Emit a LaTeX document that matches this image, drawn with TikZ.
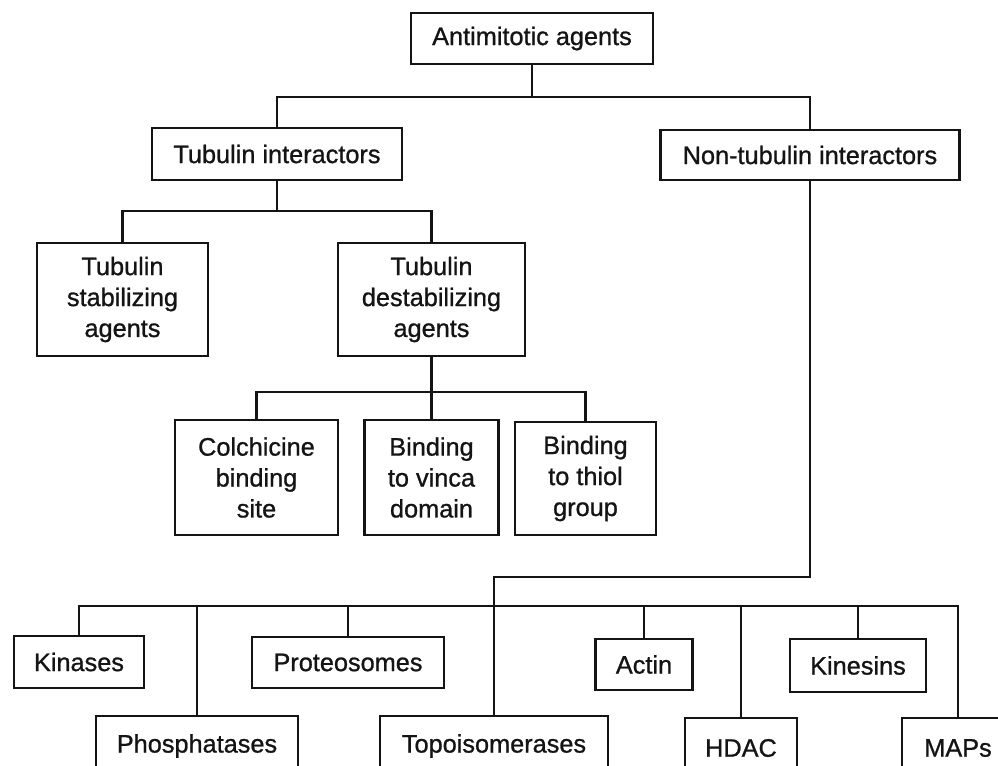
\documentclass[tikz,border=0pt]{standalone}
\usepackage{fontspec}
\setmainfont{Liberation Sans}[FakeBold=0.9]
\usepackage{xcolor}
\usepackage{tikz}
\usetikzlibrary{positioning, calc}
\definecolor{inkblack}{RGB}{20, 20, 20}
\tikzset{
    agentbox/.style={
        draw=inkblack, line width=1.5pt, fill=white, anchor=center,
        align=center, inner sep=2pt,
        font=\fontsize{14.4}{17.6}\selectfont, text=inkblack
    },
    linkline/.style={
        draw=inkblack, line width=1.2pt
    }
}

\begin{document}
\begin{tikzpicture}[x=0.02cm, y=-0.02cm]
    \useasboundingbox (0,0) rectangle (998,765);

    % Cấp 1 và 2
    \node[agentbox, minimum width=4.84cm, minimum height=1.02cm] (top) at (532,38.5) {Antimitotic agents};
    \node[agentbox, minimum width=5.0cm, minimum height=1.04cm] (tubint) at (277,154) {Tubulin interactors};
    \node[agentbox, minimum width=5.98cm, minimum height=1.0cm] (nontub) at (810,155) {Non-tubulin interactors};

    % Nhánh tubulin
    \node[agentbox, minimum width=3.42cm, minimum height=2.26cm] (stab) at (122.5,299.5) {Tubulin\\stabilizing\\agents};
    \node[agentbox, minimum width=3.74cm, minimum height=2.26cm] (destab) at (431.5,299.5) {Tubulin\\destabilizing\\agents};
    \node[agentbox, minimum width=3.26cm, minimum height=2.3cm] (colch) at (256.5,477.5) {Colchicine\\binding\\site};
    \node[agentbox, minimum width=2.68cm, minimum height=2.3cm] (vinca) at (431.5,477.5) {Binding\\to vinca\\domain};
    \node[agentbox, minimum width=2.82cm, minimum height=2.26cm] (thiol) at (585.5,478.5) {Binding\\to thiol\\group};

    % Nhánh non-tubulin (hàng trên)
    \node[agentbox, minimum width=2.6cm, minimum height=1.04cm] (kin) at (79,662) {Kinases};
    \node[agentbox, minimum width=3.84cm, minimum height=1.02cm] (prot) at (348,662.5) {Proteosomes};
    \node[agentbox, minimum width=1.94cm, minimum height=1.02cm] (actin) at (644,664.5) {Actin};
    \node[agentbox, minimum width=2.72cm, minimum height=1.06cm] (kines) at (858,665.5) {Kinesins};

    % Hàng dưới (bị cắt ở mép ảnh)
    \node[agentbox, minimum width=4.04cm, minimum height=1.2cm] (phos) at (197,746) {Phosphatases};
    \node[agentbox, minimum width=4.56cm, minimum height=1.2cm] (topo) at (494,746) {Topoisomerases};
    \node[agentbox, minimum width=2.24cm, minimum height=1.2cm] (hdac) at (741,748) {HDAC};
    \node[agentbox, minimum width=2.24cm, minimum height=1.2cm] (maps) at (958,748) {MAPs};

    % Các điểm nối
    \coordinate (j1) at (532,97);
    \coordinate (j2) at (277,211);
    \coordinate (j3) at (431.5,392);
    \coordinate (j4) at (494,577);
    \coordinate (j5) at (494,606);

    % Đường nối
    \draw[linkline] (top.south) -- (j1);
    \draw[linkline] (tubint.north) |- (j1) -| (nontub.north);
    \draw[linkline] (tubint.south) -- (j2);
    \draw[linkline] (stab.north) |- (j2) -| (destab.north);
    \draw[linkline] (destab.south) -- (j3);
    \draw[linkline] (colch.north) |- (j3) -| (thiol.north);
    \draw[linkline] (vinca.north) -- (j3);
    \draw[linkline] (nontub.south) |- (j4) -- (topo.north);
    \draw[linkline] (kin.north) |- (j5) -| (maps.north);
    \foreach \n in {phos, prot, actin, hdac, kines}
        \draw[linkline] (\n.north) -- (\n.north |- j5);

\end{tikzpicture}
\end{document}
